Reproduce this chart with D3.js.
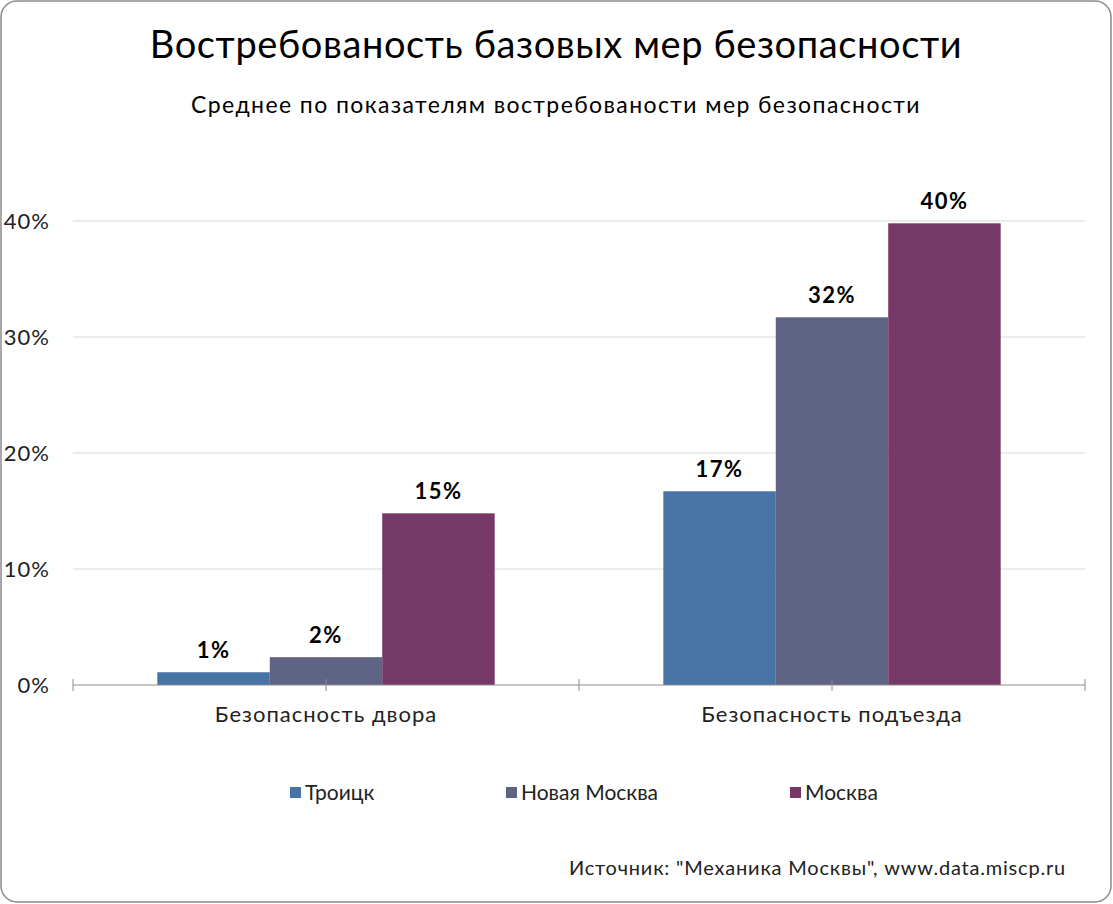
<!DOCTYPE html>
<html>
<head>
<meta charset="utf-8">
<script src="https://cdn.jsdelivr.net/npm/d3@7"></script>
<style>
  body { margin: 0; background: #fff; }
  text { font-family: Lato, "Open Sans", sans-serif; }
</style>
</head>
<body>
<div id="chart"></div>
<script>
// categories, series and values
var categories = ["Безопасность двора", "Безопасность подъезда"];
var seriesNames = ["Троицк", "Новая Москва", "Москва"];
var seriesColors = ["#4773a5", "#5f6384", "#763866"];
var troitsk = [0.011, 0.167];
var novayaMoskva = [0.024, 0.317];
var moskva = [0.148, 0.398];
var yTicks = [0, 0.1, 0.2, 0.3, 0.4];

var values = [troitsk, novayaMoskva, moskva];

var W = 1113, H = 904;
var plot = { left: 73, right: 1085, top: 221, bottom: 685 };

var svg = d3.select("#chart").append("svg")
    .attr("width", W)
    .attr("height", H);

// outer frame
svg.append("rect")
    .attr("x", 1).attr("y", 1)
    .attr("width", W - 3).attr("height", H - 3)
    .attr("rx", 16)
    .attr("fill", "#fff")
    .attr("stroke", "#8c8c8c")
    .attr("stroke-width", 1.5);

svg.append("text")
    .attr("x", 556).attr("y", 58)
    .attr("text-anchor", "middle")
    .attr("font-size", 38)
    .attr("letter-spacing", 0.6)
    .attr("fill", "#000")
    .text("Востребованость базовых мер безопасности");

svg.append("text")
    .attr("x", 556).attr("y", 113)
    .attr("text-anchor", "middle")
    .attr("font-size", 23)
    .attr("letter-spacing", 1.4)
    .attr("fill", "#000")
    .text("Среднее по показателям востребованости мер безопасности");

var y = d3.scaleLinear().domain([0, 0.4]).range([plot.bottom, plot.top]);
var x0 = d3.scaleBand().domain(categories).range([plot.left, plot.right]).paddingInner(0).paddingOuter(0);
var x1 = d3.scaleBand().domain(seriesNames).range([0, x0.bandwidth()]).paddingInner(0).paddingOuter(0.75);

// gridlines
svg.append("g").selectAll("line")
    .data(yTicks.filter(function (d) { return d > 0; }))
    .enter().append("line")
    .attr("x1", plot.left).attr("x2", plot.right)
    .attr("y1", function (d) { return y(d); })
    .attr("y2", function (d) { return y(d); })
    .attr("stroke", "#d9d9d9")
    .attr("stroke-width", 1);

// y tick labels
svg.append("g").selectAll("text")
    .data(yTicks)
    .enter().append("text")
    .attr("x", 50)
    .attr("y", function (d) { return y(d) + 8; })
    .attr("text-anchor", "end")
    .attr("font-size", 22)
    .attr("letter-spacing", 1)
    .attr("fill", "#222")
    .text(d3.format(".0%"));

// bars
var groups = svg.append("g").selectAll("g")
    .data(seriesNames)
    .enter().append("g")
    .attr("fill", function (d, i) { return seriesColors[i]; });

function rows(s, si) {
    return categories.map(function (c, ci) { return { s: s, c: c, v: values[si][ci] }; });
}

groups.selectAll("rect")
    .data(rows)
    .enter().append("rect")
    .attr("x", function (d) { return x0(d.c) + x1(d.s); })
    .attr("width", x1.bandwidth())
    .attr("y", function (d) { return y(d.v); })
    .attr("height", function (d) { return y(0) - y(d.v); });

// data labels
groups.selectAll("text")
    .data(rows)
    .enter().append("text")
    .attr("x", function (d) { return x0(d.c) + x1(d.s) + x1.bandwidth() / 2; })
    .attr("y", function (d) { return y(d.v) - 14; })
    .attr("text-anchor", "middle")
    .attr("font-size", 22)
    .attr("font-weight", "bold")
    .attr("letter-spacing", 1.5)
    .attr("fill", "#000")
    .text(function (d) { return d3.format(".0%")(d.v); });

// x axis line and ticks
var axis = svg.append("g");
axis.append("line")
    .attr("x1", plot.left).attr("x2", plot.right)
    .attr("y1", plot.bottom).attr("y2", plot.bottom)
    .attr("stroke", "#8c8c8c");
var tickXs = [];
categories.forEach(function (c) {
    tickXs.push(x0(c));
    tickXs.push(x0(c) + x0.bandwidth() / 2);
});
tickXs.push(plot.right);
axis.selectAll(".tick")
    .data(tickXs)
    .enter().append("line")
    .attr("x1", function (d) { return d; })
    .attr("x2", function (d) { return d; })
    .attr("y1", plot.bottom - 6)
    .attr("y2", plot.bottom + 6)
    .attr("stroke", "#8c8c8c");

axis.selectAll(".cat")
    .data(categories)
    .enter().append("text")
    .attr("x", function (d) { return x0(d) + x0.bandwidth() / 2; })
    .attr("y", 722)
    .attr("text-anchor", "middle")
    .attr("font-size", 22)
    .attr("letter-spacing", 1)
    .attr("fill", "#222")
    .text(function (d) { return d; });

// legend
var legendX = [290, 506, 790];
var legend = svg.append("g").selectAll("g")
    .data(seriesNames)
    .enter().append("g")
    .attr("transform", function (d, i) { return "translate(" + legendX[i] + ",787)"; });
legend.append("rect")
    .attr("width", 11).attr("height", 11)
    .attr("fill", function (d, i) { return seriesColors[i]; });
legend.append("text")
    .attr("x", 15).attr("y", 13)
    .attr("font-size", 21)
    .attr("fill", "#222")
    .text(function (d) { return d; });

svg.append("text")
    .attr("x", 1066).attr("y", 875)
    .attr("text-anchor", "end")
    .attr("font-size", 20)
    .attr("letter-spacing", 0.8)
    .attr("fill", "#222")
    .text("Источник: \"Механика Москвы\", www.data.miscp.ru");
</script>
</body>
</html>
